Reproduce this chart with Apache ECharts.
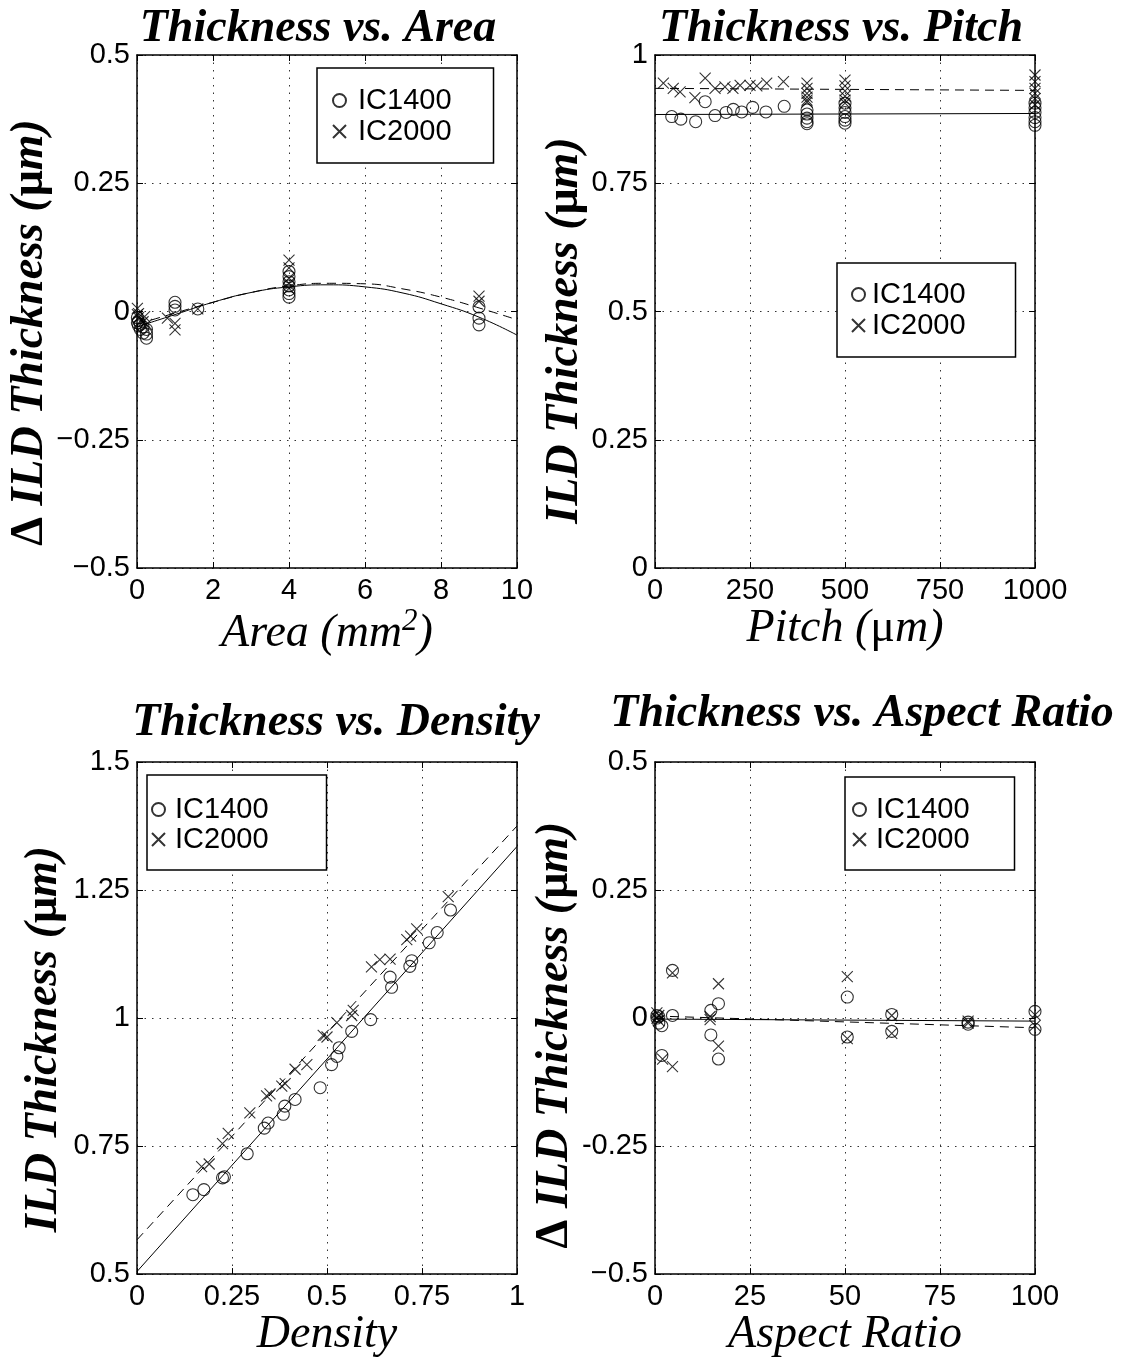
<!DOCTYPE html>
<html><head><meta charset="utf-8">
<script src="https://cdn.jsdelivr.net/npm/echarts@6/dist/echarts.min.js"></script>
<style>html,body{margin:0;padding:0;background:#fff}#c{width:1141px;height:1359px}</style>
</head><body><div id="c"></div>
<script>
// ---------- DATA ----------
const seriesNames = ['IC1400', 'IC2000'];

// Panel 1: Thickness vs. Area
const areaIC1400 = [[0.01,-0.012],[0.01,-0.022],[0.04,-0.028],[0.04,-0.018],[0.09,-0.035],[0.09,-0.025],[0.16,-0.03],[0.16,-0.042],[0.25,-0.035],[0.25,-0.052],[0.25,-0.044],[1,0.018],[1,0.010],[1,0.003],[1.6,0.005],[4,0.078],[4,0.068],[4,0.058],[4,0.05],[4,0.042],[4,0.035],[4,0.028],[9,0.009],[9,-0.013],[9,-0.026]];
const areaIC2000 = [[0.01,0.006],[0.01,-0.006],[0.04,-0.012],[0.04,-0.004],[0.2,-0.01],[0.16,-0.02],[0.25,-0.025],[0.8,-0.013],[1,-0.023],[1,-0.036],[1.6,0.005],[4,0.1],[4,0.085],[4,0.065],[4,0.055],[4,0.045],[9,0.03],[9,0.02]];
const areaFitX = [0,1,2,3,4,5,6,7,8,9,10];
const areaFitIC1400 = [-0.030,-0.006,0.018,0.037,0.048,0.052,0.048,0.036,0.015,-0.011,-0.046];
const areaFitIC2000 = [-0.025,-0.003,0.018,0.037,0.050,0.055,0.054,0.044,0.028,0.007,-0.016];

// Panel 2: Thickness vs. Pitch
const pitchIC1400 = [[44,0.880],[68,0.875],[107,0.870],[132,0.909],[158,0.882],[187,0.888],[206,0.894],[228,0.889],[257,0.898],[292,0.889],[340,0.900],[400,0.893],[400,0.885],[400,0.877],[400,0.870],[400,0.866],[500,0.906],[500,0.897],[500,0.888],[500,0.880],[500,0.873],[500,0.867],[1000,0.906],[1000,0.897],[1000,0.888],[1000,0.878],[1000,0.870],[1000,0.863]];
const pitchIC2000 = [[22,0.945],[48,0.935],[66,0.928],[105,0.917],[132,0.955],[158,0.935],[184,0.938],[205,0.935],[224,0.941],[250,0.941],[268,0.940],[294,0.945],[338,0.948],[400,0.945],[400,0.935],[400,0.925],[400,0.918],[400,0.912],[400,0.908],[500,0.951],[500,0.940],[500,0.930],[500,0.920],[500,0.912],[500,0.906],[1000,0.961],[1000,0.948],[1000,0.935],[1000,0.925],[1000,0.915],[1000,0.903]];
const pitchFitX = [0,1000];
const pitchFitIC1400 = [0.884,0.886];
const pitchFitIC2000 = [0.935,0.931];

// Panel 3: Thickness vs. Density
const densityIC1400 = [[0.147,0.655],[0.176,0.665],[0.225,0.688],[0.23,0.690],[0.29,0.735],[0.335,0.785],[0.345,0.795],[0.385,0.812],[0.389,0.828],[0.416,0.841],[0.482,0.864],[0.512,0.909],[0.526,0.925],[0.532,0.942],[0.565,0.974],[0.615,0.997],[0.666,1.080],[0.670,1.060],[0.718,1.101],[0.723,1.112],[0.769,1.147],[0.790,1.167],[0.825,1.211]];
const densityIC2000 = [[0.17,0.710],[0.19,0.715],[0.225,0.755],[0.24,0.775],[0.297,0.815],[0.341,0.848],[0.35,0.852],[0.381,0.867],[0.39,0.872],[0.416,0.900],[0.447,0.909],[0.49,0.966],[0.50,0.963],[0.526,0.991],[0.565,1.005],[0.569,1.015],[0.617,1.100],[0.639,1.114],[0.666,1.115],[0.710,1.153],[0.72,1.160],[0.736,1.174],[0.819,1.237]];
const densityFitX = [0,1];
const densityFitIC1400 = [0.505,1.335];
const densityFitIC2000 = [0.567,1.375];

// Panel 4: Thickness vs. Aspect Ratio
const aspectIC1400 = [[0.5,0.005],[0.5,0.0],[1,-0.01],[1,0.003],[1.8,-0.015],[1.8,-0.073],[4.6,0.093],[4.6,0.005],[14.7,0.015],[14.7,-0.033],[16.7,0.028],[16.7,-0.080],[50.6,0.041],[50.6,-0.037],[62.3,0.007],[62.3,-0.026],[82.4,-0.008],[82.4,-0.012],[100,0.013],[100,-0.022]];
const aspectIC2000 = [[0.5,0.010],[0.5,0.0],[1,0.005],[1,-0.005],[2,-0.080],[4.6,0.088],[4.6,-0.095],[14.5,-0.003],[14.5,0.003],[16.7,0.067],[16.7,-0.055],[50.6,0.081],[50.6,-0.040],[62.3,0.005],[62.3,-0.030],[82.4,-0.006],[82.4,-0.010],[100,0.006],[100,-0.015]];
const aspectFitX = [0,100];
const aspectFitIC1400 = [-0.002,-0.006];
const aspectFitIC2000 = [0.004,-0.019];

// Tick labels
const deltaYTicks1 = {'-0.5':'\u22120.5','-0.25':'\u22120.25','0':'0','0.25':'0.25','0.5':'0.5'};
const deltaYTicks4 = {'-0.5':'\u22120.5','-0.25':'-0.25','0':'0','0.25':'0.25','0.5':'0.5'};

// ---------- CHART ----------
const SERIF = "'Liberation Serif','Times New Roman',serif";
const SANS = "'Liberation Sans',Arial,sans-serif";

const grids = [
  {left:137, top:55, width:380, height:513},
  {left:655, top:55, width:380, height:513},
  {left:137, top:762, width:380, height:513},
  {left:655, top:762, width:380, height:513}
];

const yRich = {
  b:{fontFamily:SERIF, fontSize:46, fontWeight:'bold', fontStyle:'italic', color:'#000'},
  u:{fontFamily:SERIF, fontSize:46, fontWeight:'bold', fontStyle:'normal', color:'#000'}
};
const xRich = {
  i:{fontFamily:SERIF, fontSize:46, fontStyle:'italic', color:'#000'},
  u:{fontFamily:SERIF, fontSize:46, fontStyle:'normal', color:'#000'},
  s:{fontFamily:SERIF, fontSize:31, fontStyle:'italic', color:'#000', lineHeight:31, padding:[0,0,26,0]}
};

const panels = [
  {xmin:0,xmax:10,xint:2,ymin:-0.5,ymax:0.5,yint:0.25,ylab:deltaYTicks1,
   xname:'{i|Area (mm}{s|2}{i|)}', yname:'{u|\u0394 }{b|ILD Thickness (}{u|\u03bc}{b|m)}', yGap:66, yPad:[0,42,0,0],
   s1:areaIC1400, s2:areaIC2000, fx:areaFitX, f1:areaFitIC1400, f2:areaFitIC2000, smooth:true},
  {xmin:0,xmax:1000,xint:250,ymin:0,ymax:1,yint:0.25,ylab:null,
   xname:'{i|Pitch (}{u|\u03bc}{i|m)}', yname:'{b|ILD Thickness (}{u|\u03bc}{b|m)}', yGap:67, yPad:[0,38,0,0],
   s1:pitchIC1400, s2:pitchIC2000, fx:pitchFitX, f1:pitchFitIC1400, f2:pitchFitIC2000, smooth:false},
  {xmin:0,xmax:1,xint:0.25,ymin:0.5,ymax:1.5,yint:0.25,ylab:null,
   xname:'{i|Density}', yname:'{b|ILD Thickness (}{u|\u03bc}{b|m)}', yGap:70, yPad:[0,42,0,0],
   s1:densityIC1400, s2:densityIC2000, fx:densityFitX, f1:densityFitIC1400, f2:densityFitIC2000, smooth:false},
  {xmin:0,xmax:100,xint:25,ymin:-0.5,ymax:0.5,yint:0.25,ylab:deltaYTicks4,
   xname:'{i|Aspect Ratio}', yname:'{u|\u0394 }{b|ILD Thickness (}{u|\u03bc}{b|m)}', yGap:68, yPad:[0,34,0,0],
   s1:aspectIC1400, s2:aspectIC2000, fx:aspectFitX, f1:aspectFitIC1400, f2:aspectFitIC2000, smooth:false}
];

const titles = [
  {text:'Thickness vs. Area', left:318, top:6},
  {text:'Thickness vs. Pitch', left:841, top:6},
  {text:'Thickness vs. Density', left:336, top:700},
  {text:'Thickness vs. Aspect Ratio', left:862, top:691}
];

const legends = [
  {left:317, top:68, padding:[18,42,17,15], tp:7, gap:2},
  {left:837, top:263, padding:[17,50,17,14], tp:2, gap:2},
  {left:147, top:775, padding:[20,58,16,4], tp:5, gap:1},
  {left:845, top:777, padding:[18,45,16,7], tp:5, gap:1}
];

const CROSS = 'path://M0,0L10,10M10,0L0,10';
const axisLine = {show:true, onZero:false, lineStyle:{color:'#000', width:1.5}};
const tick = {show:true, inside:true, length:6, lineStyle:{color:'#000', width:1}};
const split = {show:true, lineStyle:{color:'#333', width:1, type:[1.5,6]}};
const plain = v => String(+v.toFixed(4));

const xAxis = [], yAxis = [], series = [];
panels.forEach((p, i) => {
  xAxis.push({gridIndex:i, type:'value', position:'bottom', min:p.xmin, max:p.xmax, interval:p.xint,
    axisLine, axisTick:tick, splitLine:split,
    axisLabel:{color:'#000', fontFamily:SANS, fontSize:29, margin:8, showMinLabel:true, showMaxLabel:true, formatter:plain},
    name:p.xname, nameLocation:'middle', nameGap:36, nameTextStyle:{rich:xRich}});
  xAxis.push({gridIndex:i, type:'value', position:'top', min:p.xmin, max:p.xmax, interval:p.xint,
    axisLine, axisTick:tick, splitLine:{show:false}, axisLabel:{show:false}});
  const lab = p.ylab;
  yAxis.push({gridIndex:i, type:'value', position:'left', min:p.ymin, max:p.ymax, interval:p.yint,
    axisLine, axisTick:tick, splitLine:split,
    axisLabel:{color:'#000', fontFamily:SANS, fontSize:29, margin:7, showMinLabel:true, showMaxLabel:true,
      formatter: lab ? (v => lab[plain(v)] ?? plain(v)) : plain},
    name:p.yname, nameLocation:'middle', nameGap:p.yGap, nameRotate:90,
    nameTextStyle:{rich:yRich, padding:p.yPad}});
  yAxis.push({gridIndex:i, type:'value', position:'right', min:p.ymin, max:p.ymax, interval:p.yint,
    axisLine, axisTick:tick, splitLine:{show:false}, axisLabel:{show:false}});
  const xi = 2*i, yi = 2*i;
  series.push({type:'scatter', name:seriesNames[0], xAxisIndex:xi, yAxisIndex:yi, data:p.s1,
    symbol:'circle', symbolSize:12, itemStyle:{color:'rgba(0,0,0,0)', borderColor:'#000', borderWidth:1.1}, z:3});
  series.push({type:'scatter', name:seriesNames[1], xAxisIndex:xi, yAxisIndex:yi, data:p.s2,
    symbol:CROSS, symbolSize:11, itemStyle:{color:'rgba(0,0,0,0)', borderColor:'#000', borderWidth:1.1}, z:3});
  series.push({type:'line', name:'fit1400_'+i, xAxisIndex:xi, yAxisIndex:yi,
    data:p.fx.map((x,k)=>[x,p.f1[k]]), symbol:'none', smooth:p.smooth,
    lineStyle:{color:'#000', width:1, type:'solid'}, z:2});
  series.push({type:'line', name:'fit2000_'+i, xAxisIndex:xi, yAxisIndex:yi,
    data:p.fx.map((x,k)=>[x,p.f2[k]]), symbol:'none', smooth:p.smooth,
    lineStyle:{color:'#000', width:1, type:[9,6]}, z:2});
});

const option = {
  animation:false,
  backgroundColor:'#fff',
  title: titles.map(t => ({text:t.text, left:t.left, top:t.top, textAlign:'center', padding:0,
    textStyle:{fontFamily:SERIF, fontSize:46, fontWeight:'bold', fontStyle:'italic', color:'#000'}})),
  legend: legends.map((l, i) => ({data:seriesNames, orient:'vertical', left:l.left, top:l.top,
    padding:l.padding, itemGap:l.gap, itemWidth:13, itemHeight:13, selectedMode:false,
    borderColor:'#000', borderWidth:1.5, backgroundColor:'#fff',
    textStyle:{fontFamily:SANS, fontSize:29, lineHeight:29, color:'#000', padding:[0,0,0,l.tp]}})),
  grid: grids.map(g => Object.assign({containLabel:false}, g)),
  xAxis, yAxis, series
};

const chart = echarts.init(document.getElementById('c'), null, {renderer:'canvas'});
chart.setOption(option);
</script></body></html>
